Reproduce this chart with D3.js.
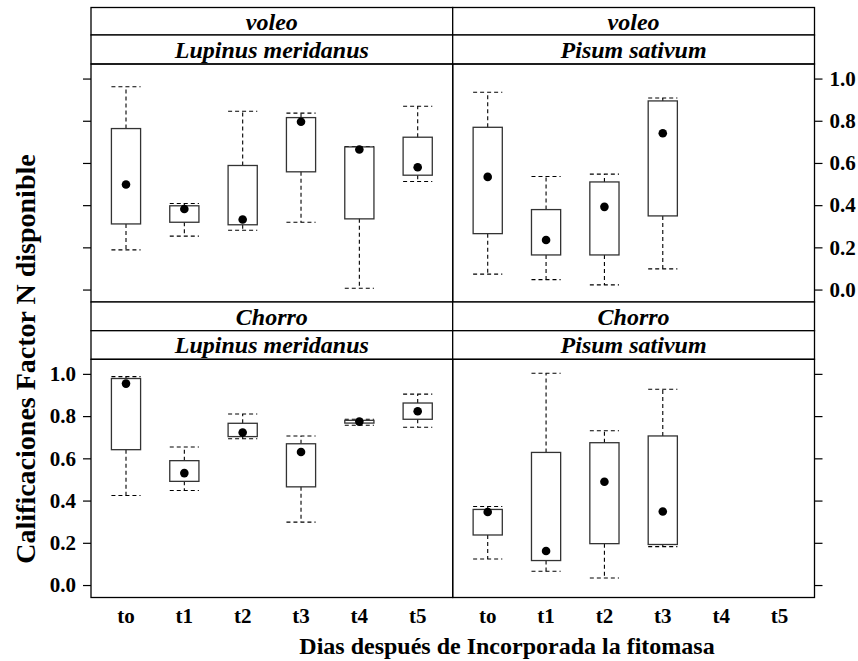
<!DOCTYPE html>
<html><head><meta charset="utf-8">
<script src="https://cdn.jsdelivr.net/npm/d3@7"></script>
<style>body{margin:0;background:#fff}</style></head>
<body>
<svg id="chart" width="858" height="661"></svg>
<script>
const categories = ["to", "t1", "t2", "t3", "t4", "t5"];
const yTicks = [0.0, 0.2, 0.4, 0.6, 0.8, 1.0];
const methods = ["voleo", "Chorro"];
const species = ["Lupinus meridanus", "Pisum sativum"];
const xTitle = "Dias después de Incorporada la fitomasa";
const yTitle = "Calificaciones Factor N disponible";
// each entry: [lower whisker, Q1, median, Q3, upper whisker]
const voleoLupinus = [
  [0.188, 0.311, 0.498, 0.763, 0.961],
  [0.253, 0.319, 0.382, 0.397, 0.408],
  [0.281, 0.307, 0.332, 0.588, 0.845],
  [0.319, 0.558, 0.795, 0.815, 0.836],
  [0.006, 0.335, 0.664, 0.676, 0.678],
  [0.512, 0.542, 0.580, 0.722, 0.869]
];
const voleoPisum = [
  [0.073, 0.265, 0.534, 0.769, 0.935],
  [0.047, 0.164, 0.235, 0.379, 0.536],
  [0.022, 0.164, 0.392, 0.510, 0.547],
  [0.098, 0.349, 0.741, 0.894, 0.908],
  null,
  null
];
const chorroLupinus = [
  [0.424, 0.641, 0.954, 0.978, 0.987],
  [0.448, 0.491, 0.530, 0.589, 0.654],
  [0.693, 0.703, 0.722, 0.766, 0.810],
  [0.298, 0.465, 0.630, 0.669, 0.706],
  [0.757, 0.767, 0.774, 0.780, 0.785],
  [0.747, 0.785, 0.823, 0.862, 0.904]
];
const chorroPisum = [
  [0.123, 0.237, 0.346, 0.358, 0.372],
  [0.065, 0.116, 0.161, 0.628, 1.003],
  [0.033, 0.196, 0.489, 0.674, 0.731],
  [0.182, 0.192, 0.348, 0.706, 0.927],
  null,
  null
];

const panels = [
  {row: 0, col: 0, method: methods[0], sp: species[0], data: voleoLupinus},
  {row: 0, col: 1, method: methods[0], sp: species[1], data: voleoPisum},
  {row: 1, col: 0, method: methods[1], sp: species[0], data: chorroLupinus},
  {row: 1, col: 1, method: methods[1], sp: species[1], data: chorroPisum}
];

const svg = d3.select("#chart");
const FONT = "Liberation Serif, Times New Roman, serif";
const colX = [[91, 452.7], [452.7, 814.5]];
const rows = [
  {s1: 7.5, s2: 35, p0: 64, p1: 302},
  {s1: 302, s2: 330.7, p0: 359.3, p1: 597.5}
];
const yDomain = [-0.059, 1.069];

panels.forEach(p => {
  const [x0, x1] = colX[p.col];
  const r = rows[p.row];
  const g = svg.append("g");
  const x = d3.scaleBand().domain(categories).range([x0, x1]).paddingInner(0).paddingOuter(0.1);
  const y = d3.scaleLinear().domain(yDomain).range([r.p1, r.p0]);
  const bw = x.bandwidth() * 0.5;

  // strips
  [[r.s1, r.s2, p.method], [r.s2, r.p0, p.sp]].forEach(([a, b, t]) => {
    g.append("rect").attr("x", x0).attr("y", a).attr("width", x1 - x0).attr("height", b - a)
      .attr("fill", "#fff").attr("stroke", "#000").attr("stroke-width", 1.3);
    g.append("text").attr("x", (x0 + x1) / 2).attr("y", (a + b) / 2).attr("dy", "0.35em")
      .attr("text-anchor", "middle").style("font-family", FONT).attr("font-size", 24)
      .attr("font-weight", "bold").attr("font-style", "italic").text(t);
  });

  // boxes
  p.data.forEach((d, i) => {
    if (!d) return;
    const cx = x(categories[i]) + x.bandwidth() / 2;
    const [lo, q1, md, q3, hi] = d;
    const wh = g.append("g").attr("stroke", "#000").attr("stroke-width", 1.1).attr("stroke-dasharray", "4,3");
    wh.append("line").attr("x1", cx).attr("x2", cx).attr("y1", y(q3)).attr("y2", y(hi));
    wh.append("line").attr("x1", cx).attr("x2", cx).attr("y1", y(q1)).attr("y2", y(lo));
    wh.append("line").attr("x1", cx - bw / 2).attr("x2", cx + bw / 2).attr("y1", y(hi)).attr("y2", y(hi));
    wh.append("line").attr("x1", cx - bw / 2).attr("x2", cx + bw / 2).attr("y1", y(lo)).attr("y2", y(lo));
    g.append("rect").attr("x", cx - bw / 2).attr("y", y(q3)).attr("width", bw)
      .attr("height", Math.max(1, y(q1) - y(q3)))
      .attr("fill", "none").attr("stroke", "#333").attr("stroke-width", 1.3);
    g.append("circle").attr("cx", cx).attr("cy", y(md)).attr("r", 4.3).attr("fill", "#000");
  });

  // panel frame
  g.append("rect").attr("x", x0).attr("y", r.p0).attr("width", x1 - x0).attr("height", r.p1 - r.p0)
    .attr("fill", "none").attr("stroke", "#000").attr("stroke-width", 1.3);

  // y axes
  const labelled = (p.row === 0 && p.col === 1) || (p.row === 1 && p.col === 0);
  const axis = (p.col === 0 ? d3.axisLeft(y) : d3.axisRight(y))
    .tickValues(yTicks).tickSize(8).tickPadding(7)
    .tickFormat(labelled ? d3.format(".1f") : () => "");
  const ag = g.append("g").attr("transform", `translate(${p.col === 0 ? x0 : x1},0)`).call(axis);
  ag.select(".domain").remove();
  ag.selectAll("line").attr("stroke", "#000").attr("stroke-width", 1.2);
  ag.selectAll("text").style("font-family", FONT).attr("font-size", 21).attr("font-weight", "bold").attr("fill", "#000");

  // x labels (bottom row)
  if (p.row === 1) {
    const xa = d3.axisBottom(x).tickSize(0).tickPadding(11);
    const xg = g.append("g").attr("transform", `translate(0,${r.p1})`).call(xa);
    xg.select(".domain").remove();
    xg.selectAll("text").style("font-family", FONT).attr("font-size", 21).attr("font-weight", "bold").attr("fill", "#000");
  }
});

svg.append("text").attr("x", 507).attr("y", 646).attr("dy", "0.35em").attr("text-anchor", "middle")
  .style("font-family", FONT).attr("font-size", 24).attr("font-weight", "bold").text(xTitle);
svg.append("text").attr("transform", "translate(25,359) rotate(-90)").attr("dy", "0.35em")
  .attr("text-anchor", "middle").style("font-family", FONT).attr("font-size", 28)
  .attr("font-weight", "bold").text(yTitle);
</script>
</body></html>
